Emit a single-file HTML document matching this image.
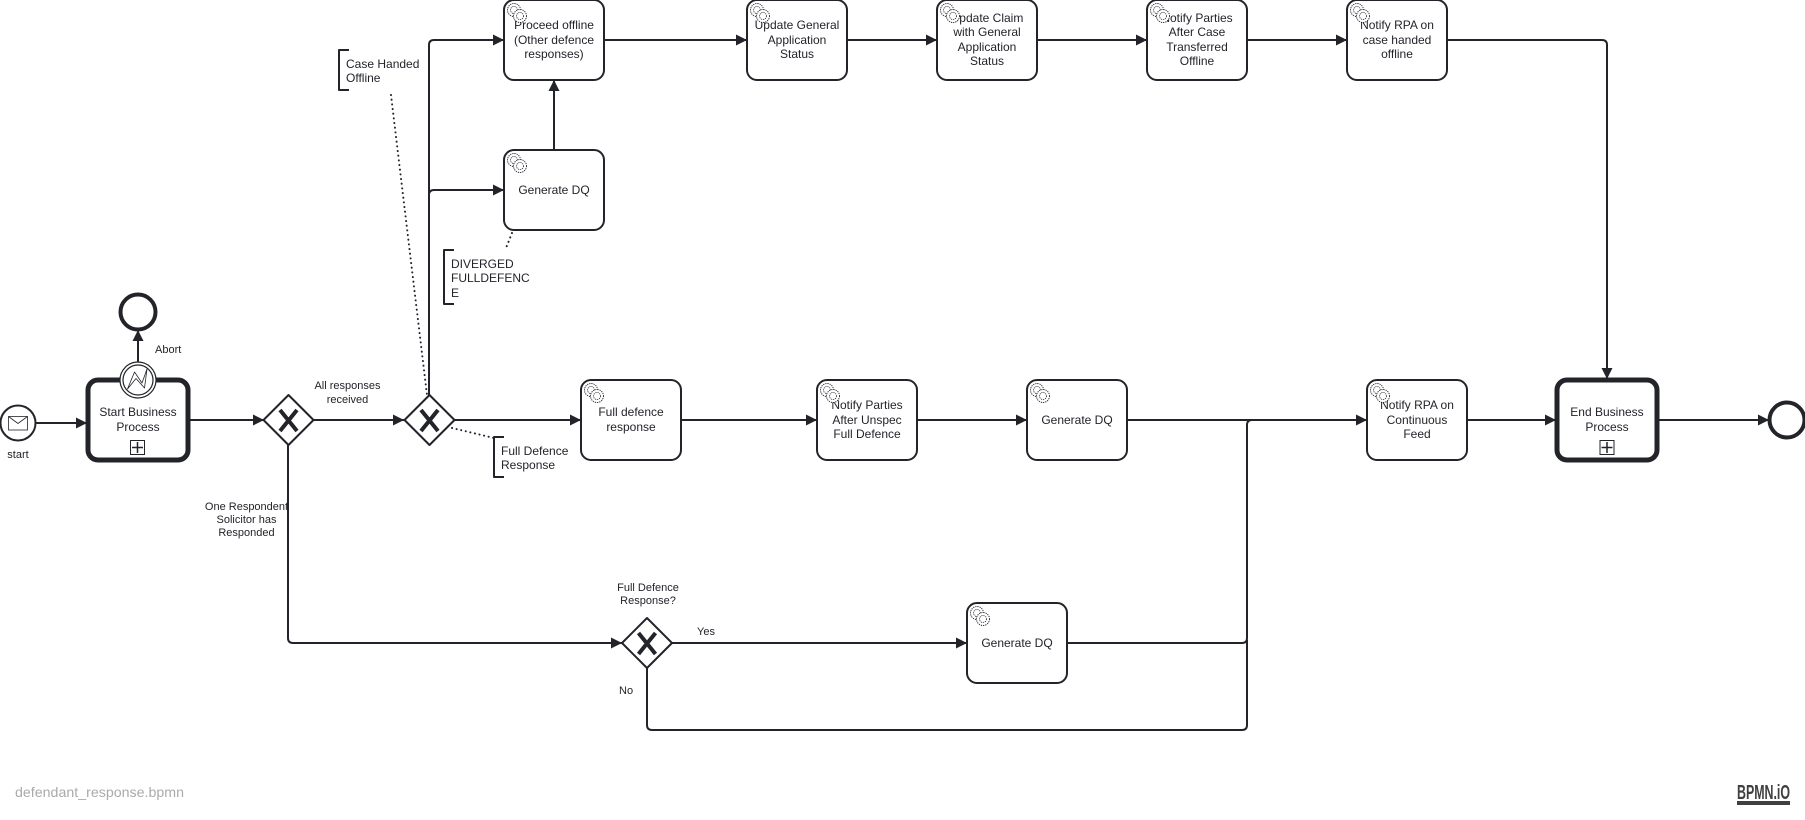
<!DOCTYPE html>
<html>
<head>
<meta charset="utf-8">
<title>defendant_response.bpmn</title>
<style>
html,body{margin:0;padding:0;background:#fff;width:1805px;height:820px;overflow:hidden}
svg{display:block;position:absolute;left:0;top:0}
text{font-family:"Liberation Sans",Arial,sans-serif;fill:#22242a}
.t{font-size:12px;text-anchor:middle}
.l{font-size:11px;text-anchor:middle}
.a{font-size:12px}
.f{fill:none;stroke:#22242a;stroke-width:2;stroke-linejoin:round}
.task{fill:#fff;stroke:#22242a;stroke-width:2}
.sub{fill:#fff;stroke:#22242a;stroke-width:5}
.gw{fill:#fff;stroke:#22242a;stroke-width:2;stroke-linejoin:round}
.x{fill:none;stroke:#22242a;stroke-width:4}
.dot{fill:none;stroke:#22242a;stroke-width:2;stroke-dasharray:0.1 4.6;stroke-linecap:round}
.g1{fill:#fff;stroke:#22242a;stroke-width:0.9;stroke-dasharray:1.3 0.9}
.g2{fill:none;stroke:#22242a;stroke-width:0.8;stroke-dasharray:1.2 0.9}
</style>
</head>
<body>
<svg width="1805" height="820" viewBox="0 0 1805 820" xmlns="http://www.w3.org/2000/svg">
<defs>
<marker id="arr" markerUnits="userSpaceOnUse" markerWidth="12" markerHeight="12" refX="11" refY="6" orient="auto">
<path d="M0 0.5L11 6L0 11.5Z" fill="#22242a"/>
</marker>
<g id="gear">
<circle class="g1" cx="10" cy="10" r="6.5"/>
<circle class="g2" cx="10" cy="10" r="3.5"/>
<circle class="g1" cx="16" cy="16" r="6.5"/>
<circle class="g2" cx="16" cy="16" r="3.5"/>
</g>
</defs>

<!-- connectors -->
<g class="f">
<path d="M36 423H87" marker-end="url(#arr)"/>
<path d="M138 362V330" marker-end="url(#arr)"/>
<path d="M190 420H264" marker-end="url(#arr)"/>
<path d="M313 420H404" marker-end="url(#arr)"/>
<path d="M454 420H581" marker-end="url(#arr)"/>
<path d="M681 420H817" marker-end="url(#arr)"/>
<path d="M917 420H1027" marker-end="url(#arr)"/>
<path d="M1127 420H1367" marker-end="url(#arr)"/>
<path d="M1467 420H1556" marker-end="url(#arr)"/>
<path d="M1657 420H1769" marker-end="url(#arr)"/>
<path d="M429 395V45Q429 40 434 40H504" marker-end="url(#arr)"/>
<path d="M429 195Q429 190 434 190H504" marker-end="url(#arr)"/>
<path d="M554 150V80" marker-end="url(#arr)"/>
<path d="M604 40H747" marker-end="url(#arr)"/>
<path d="M847 40H937" marker-end="url(#arr)"/>
<path d="M1037 40H1147" marker-end="url(#arr)"/>
<path d="M1247 40H1347" marker-end="url(#arr)"/>
<path d="M1447 40H1602Q1607 40 1607 45V379" marker-end="url(#arr)"/>
<path d="M288 445V638Q288 643 293 643H622" marker-end="url(#arr)"/>
<path d="M672 643H967" marker-end="url(#arr)"/>
<path d="M1067 643H1242Q1247 643 1247 638V425Q1247 420 1252 420"/>
<path d="M647 668V725Q647 730 652 730H1242Q1247 730 1247 725V640"/>
</g>

<!-- dotted associations -->
<path class="dot" d="M391 95L427 395"/>
<path class="dot" d="M512 233L506 248"/>
<path class="dot" d="M452 428L494 438"/>

<!-- annotations -->
<path class="f" d="M349 50H339V90H349"/>
<text class="a" x="346" y="68">Case Handed</text>
<text class="a" x="346" y="82">Offline</text>
<path class="f" d="M454 250H444V304H454"/>
<text class="a" x="451" y="268">DIVERGED</text>
<text class="a" x="451" y="282">FULLDEFENC</text>
<text class="a" x="451" y="297">E</text>
<path class="f" d="M504 437H494V477H504"/>
<text class="a" x="501" y="455">Full Defence</text>
<text class="a" x="501" y="469">Response</text>

<!-- start event -->
<circle cx="18" cy="423" r="17.5" fill="#fff" stroke="#22242a" stroke-width="2"/>
<rect x="8.5" y="416.5" width="19" height="13.5" fill="#fff" stroke="#22242a" stroke-width="0.8"/>
<path d="M8.5 416.5L18 423.5L27.5 416.5" fill="none" stroke="#22242a" stroke-width="0.8"/>
<text class="l" x="18" y="458">start</text>

<!-- start subprocess -->
<rect class="sub" x="88" y="380" width="100" height="80" rx="10"/>
<text class="t" x="138" y="416">Start Business</text>
<text class="t" x="138" y="431">Process</text>
<rect x="130.5" y="440.5" width="14" height="14" fill="#fff" stroke="#22242a" stroke-width="1"/>
<path d="M137.5 442V453M132 447.5H143" stroke="#22242a" stroke-width="1.5" fill="none"/>

<!-- boundary event -->
<circle cx="138" cy="380" r="18" fill="#fff" stroke="#22242a" stroke-width="1.2"/>
<circle cx="138" cy="380" r="15" fill="#fff" stroke="#22242a" stroke-width="1.2"/>
<path d="M127.5 389L134.5 372L142 383L147 369L144.5 388L136 378.5Z" fill="#fff" stroke="#22242a" stroke-width="0.8" stroke-linejoin="round"/>

<!-- abort end -->
<circle cx="138" cy="312" r="17.5" fill="#fff" stroke="#22242a" stroke-width="4"/>
<text class="l" x="155" y="353" style="text-anchor:start">Abort</text>

<!-- gateways -->
<path class="gw" d="M288.5 395L313.5 420L288.5 445L263.5 420Z"/>
<path class="x" d="M280 410L297 431M297 410L280 431"/>
<path class="gw" d="M429.5 395L454.5 420L429.5 445L404.5 420Z"/>
<path class="x" d="M421 410L438 431M438 410L421 431"/>
<path class="gw" d="M647 618L672 643L647 668L622 643Z"/>
<path class="x" d="M638.5 633L655.5 654M655.5 633L638.5 654"/>

<text class="l" x="347.5" y="389">All responses</text>
<text class="l" x="347.5" y="403">received</text>
<text class="l" x="246.5" y="510">One Respondent</text>
<text class="l" x="246.5" y="523">Solicitor has</text>
<text class="l" x="246.5" y="536">Responded</text>
<text class="l" x="648" y="591">Full Defence</text>
<text class="l" x="648" y="604">Response?</text>
<text class="l" x="697" y="635" style="text-anchor:start">Yes</text>
<text class="l" x="619" y="694" style="text-anchor:start">No</text>

<!-- top row tasks -->
<rect class="task" x="504" y="0" width="100" height="80" rx="10"/>
<text class="t" x="554" y="29">Proceed offline</text>
<text class="t" x="554" y="44">(Other defence</text>
<text class="t" x="554" y="58">responses)</text>
<use href="#gear" x="504" y="0"/>

<rect class="task" x="504" y="150" width="100" height="80" rx="10"/>
<text class="t" x="554" y="194">Generate DQ</text>
<use href="#gear" x="504" y="150"/>

<rect class="task" x="747" y="0" width="100" height="80" rx="10"/>
<text class="t" x="797" y="29">Update General</text>
<text class="t" x="797" y="44">Application</text>
<text class="t" x="797" y="58">Status</text>
<use href="#gear" x="747" y="0"/>

<rect class="task" x="937" y="0" width="100" height="80" rx="10"/>
<text class="t" x="987" y="22">Update Claim</text>
<text class="t" x="987" y="36">with General</text>
<text class="t" x="987" y="51">Application</text>
<text class="t" x="987" y="65">Status</text>
<use href="#gear" x="937" y="0"/>

<rect class="task" x="1147" y="0" width="100" height="80" rx="10"/>
<text class="t" x="1197" y="22">Notify Parties</text>
<text class="t" x="1197" y="36">After Case</text>
<text class="t" x="1197" y="51">Transferred</text>
<text class="t" x="1197" y="65">Offline</text>
<use href="#gear" x="1147" y="0"/>

<rect class="task" x="1347" y="0" width="100" height="80" rx="10"/>
<text class="t" x="1397" y="29">Notify RPA on</text>
<text class="t" x="1397" y="44">case handed</text>
<text class="t" x="1397" y="58">offline</text>
<use href="#gear" x="1347" y="0"/>

<!-- middle row tasks -->
<rect class="task" x="581" y="380" width="100" height="80" rx="10"/>
<text class="t" x="631" y="416">Full defence</text>
<text class="t" x="631" y="431">response</text>
<use href="#gear" x="581" y="380"/>

<rect class="task" x="817" y="380" width="100" height="80" rx="10"/>
<text class="t" x="867" y="409">Notify Parties</text>
<text class="t" x="867" y="424">After Unspec</text>
<text class="t" x="867" y="438">Full Defence</text>
<use href="#gear" x="817" y="380"/>

<rect class="task" x="1027" y="380" width="100" height="80" rx="10"/>
<text class="t" x="1077" y="424">Generate DQ</text>
<use href="#gear" x="1027" y="380"/>

<rect class="task" x="1367" y="380" width="100" height="80" rx="10"/>
<text class="t" x="1417" y="409">Notify RPA on</text>
<text class="t" x="1417" y="424">Continuous</text>
<text class="t" x="1417" y="438">Feed</text>
<use href="#gear" x="1367" y="380"/>

<!-- bottom task -->
<rect class="task" x="967" y="603" width="100" height="80" rx="10"/>
<text class="t" x="1017" y="647">Generate DQ</text>
<use href="#gear" x="967" y="603"/>

<!-- end subprocess -->
<rect class="sub" x="1557" y="380" width="100" height="80" rx="10"/>
<text class="t" x="1607" y="416">End Business</text>
<text class="t" x="1607" y="431">Process</text>
<rect x="1600" y="440.5" width="14" height="14" fill="#fff" stroke="#22242a" stroke-width="1"/>
<path d="M1607 442V453M1601.5 447.5H1612.5" stroke="#22242a" stroke-width="1.5" fill="none"/>

<!-- end event -->
<circle cx="1787" cy="420" r="17.5" fill="#fff" stroke="#22242a" stroke-width="4"/>

<!-- footer -->
<text x="15" y="797" font-size="14" style="fill:#aaa" textLength="169" lengthAdjust="spacingAndGlyphs">defendant_response.bpmn</text>
<text x="1737" y="799" font-size="20" font-weight="700" style="fill:#404040" textLength="53" lengthAdjust="spacingAndGlyphs">BPMN.iO</text>
<rect x="1737" y="801" width="53" height="4" fill="#404040"/>
</svg>
</body>
</html>
